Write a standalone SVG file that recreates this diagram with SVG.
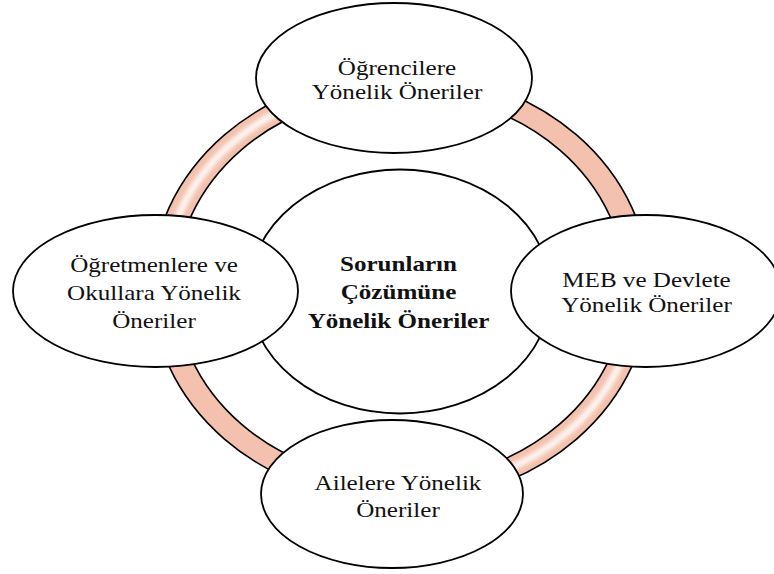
<svg xmlns="http://www.w3.org/2000/svg" width="774" height="574" viewBox="0 0 774 574">
  <style>
    .node { fill: #ffffff; stroke: #000000; stroke-width: 1.8; }
    .t { font-family: "Liberation Serif", "Times New Roman", serif; font-size: 22px; fill: #111111; text-anchor: middle; }
    .b { font-weight: bold; }
    .ring { fill: #F3C1AD; stroke: #000000; stroke-width: 1.6; fill-rule: evenodd; }
    .hl { fill: none; stroke: #FFFFFF; stroke-width: 7; opacity: 0.85; filter: url(#soft); }
  </style>
  <defs>
    <filter id="soft" x="-10%" y="-10%" width="120%" height="120%">
      <feGaussianBlur stdDeviation="2"/>
    </filter>
  </defs>
  <rect width="774" height="574" fill="#ffffff"/>
  <g id="connectors">
    <path class="ring" d="M 151.5 287 A 249 215 0 1 0 649.5 287 A 249 215 0 1 0 151.5 287 Z M 175.5 287 A 225 194 0 1 0 625.5 287 A 225 194 0 1 0 175.5 287 Z"/>
    <path class="hl" d="M 163.5 287 A 237 204.5 0 0 1 400.5 82.5"/>
    <path class="hl" d="M 637.5 287 A 237 204.5 0 0 1 400.5 491.5"/>
  </g>
  <g id="center">
    <ellipse class="node" cx="400" cy="291.5" rx="151" ry="122"/>
    <text class="t b" transform="matrix(1.14 0 0 1 398.5 0)"><tspan x="0" y="271">Sorunların</tspan><tspan x="0" y="299">Çözümüne</tspan><tspan x="0" y="328">Yönelik Öneriler</tspan></text>
  </g>
  <g id="top">
    <ellipse class="node" cx="394" cy="78" rx="138" ry="75"/>
    <text class="t" transform="matrix(1.14 0 0 1 397 0)"><tspan x="0" y="75">Öğrencilere</tspan><tspan x="0" y="99">Yönelik Öneriler</tspan></text>
  </g>
  <g id="left">
    <ellipse class="node" cx="155.5" cy="291" rx="142.5" ry="76"/>
    <text class="t" transform="matrix(1.14 0 0 1 154 0)"><tspan x="0" y="272">Öğretmenlere ve</tspan><tspan x="0" y="300">Okullara Yönelik</tspan><tspan x="0" y="328">Öneriler</tspan></text>
  </g>
  <g id="right">
    <ellipse class="node" cx="646" cy="291" rx="135" ry="76"/>
    <text class="t" transform="matrix(1.14 0 0 1 646.5 0)"><tspan x="0" y="287">MEB ve Devlete</tspan><tspan x="0" y="312">Yönelik Öneriler</tspan></text>
  </g>
  <g id="bottom">
    <ellipse class="node" cx="392" cy="494" rx="131" ry="74"/>
    <text class="t" transform="matrix(1.14 0 0 1 398 0)"><tspan x="0" y="490">Ailelere Yönelik</tspan><tspan x="0" y="517">Öneriler</tspan></text>
  </g>
</svg>
